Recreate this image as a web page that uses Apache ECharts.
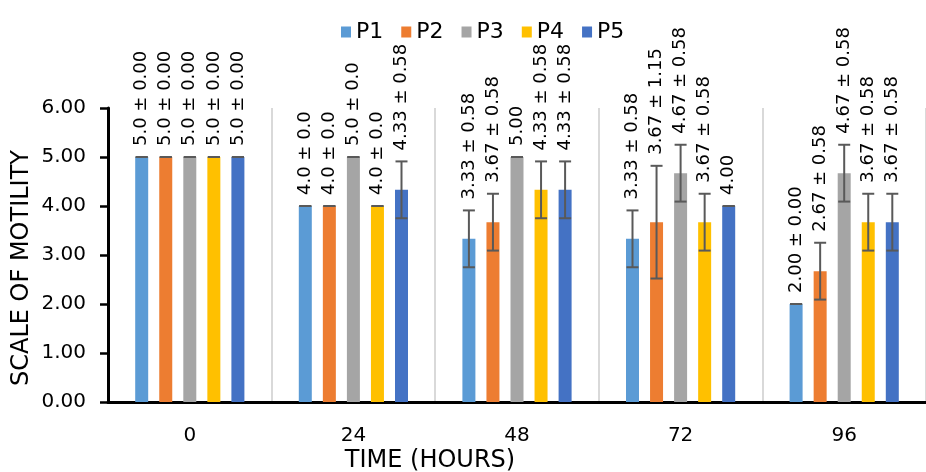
<!DOCTYPE html>
<html>
<head>
<meta charset="utf-8">
<script src="https://cdn.jsdelivr.net/npm/echarts@6/dist/echarts.min.js"></script>
<style>html,body{margin:0;padding:0;background:#fff;}#c{width:926px;height:472px;}</style>
</head>
<body>
<div id="c"></div>
<script>
var categories = ['0', '24', '48', '72', '96'];
var seriesNames = ['P1', 'P2', 'P3', 'P4', 'P5'];
var p1Mean = [5.0, 4.0, 3.33, 3.33, 2.00];
var p1Sd   = [0, 0, 0.58, 0.58, 0];
var p2Mean = [5.0, 4.0, 3.67, 3.67, 2.67];
var p2Sd   = [0, 0, 0.58, 1.15, 0.58];
var p3Mean = [5.0, 5.0, 5.00, 4.67, 4.67];
var p3Sd   = [0, 0, 0, 0.58, 0.58];
var p4Mean = [5.0, 4.0, 4.33, 3.67, 3.67];
var p4Sd   = [0, 0, 0.58, 0.58, 0.58];
var p5Mean = [5.0, 4.33, 4.33, 4.00, 3.67];
var p5Sd   = [0, 0.58, 0.58, 0, 0.58];
var p1Labels = ['5.0 ± 0.00', '4.0 ± 0.0', '3.33 ± 0.58', '3.33 ± 0.58', '2.00 ± 0.00'];
var p2Labels = ['5.0 ± 0.00', '4.0 ± 0.0', '3.67 ± 0.58', '3.67 ± 1.15', '2.67 ± 0.58'];
var p3Labels = ['5.0 ± 0.00', '5.0 ± 0.0', '5.00', '4.67 ± 0.58', '4.67 ± 0.58'];
var p4Labels = ['5.0 ± 0.00', '4.0 ± 0.0', '4.33 ± 0.58', '3.67 ± 0.58', '3.67 ± 0.58'];
var p5Labels = ['5.0 ± 0.00', '4.33 ± 0.58', '4.33 ± 0.58', '4.00', '3.67 ± 0.58'];
var yTicks = [0, 1, 2, 3, 4, 5, 6];

var colors = ['#5B9BD5', '#ED7D31', '#A5A5A5', '#FFC000', '#4472C4'];
var means = [p1Mean, p2Mean, p3Mean, p4Mean, p5Mean];
var sds = [p1Sd, p2Sd, p3Sd, p4Sd, p5Sd];
var labels = [p1Labels, p2Labels, p3Labels, p4Labels, p5Labels];

var BAR_W = 13, BAR_GAP = 0.85;
var FONT = '"DejaVu Sans", Verdana, sans-serif';

var chart = echarts.init(document.getElementById('c'), null, {renderer: 'canvas'});

var series = [];
seriesNames.forEach(function (name, i) {
  series.push({
    name: name,
    type: 'bar',
    barWidth: BAR_W,
    barGap: (BAR_GAP * 100) + '%',
    itemStyle: {color: colors[i]},
    data: means[i],
    z: 2
  });
});
seriesNames.forEach(function (name, i) {
  var errData = categories.map(function (c, k) { return [k, means[i][k], sds[i][k]]; });
  series.push({
    name: name,
    type: 'custom',
    z: 5,
    clip: false,
    data: errData,
    encode: {x: 0, y: 1},
    renderItem: function (params, api) {
      var cat = api.value(0), m = api.value(1), sd = api.value(2);
      var off = (i - 2) * BAR_W * (1 + BAR_GAP);
      var x = api.coord([cat, m])[0] + off;
      var yTop = api.coord([cat, m + sd])[1];
      var yBot = api.coord([cat, m - sd])[1];
      var cap = 6;
      var st = {stroke: '#595959', lineWidth: 2};
      return {
        type: 'group',
        children: [
          {type: 'line', shape: {x1: x, y1: yTop, x2: x, y2: yBot}, style: st},
          {type: 'line', shape: {x1: x - cap, y1: yTop, x2: x + cap, y2: yTop}, style: st},
          {type: 'line', shape: {x1: x - cap, y1: yBot, x2: x + cap, y2: yBot}, style: st},
          {type: 'text', x: x, y: yTop - 11, rotation: Math.PI / 2,
           style: {text: labels[i][params.dataIndex], fontSize: 18, fontFamily: FONT,
                   fill: '#000', align: 'left', verticalAlign: 'middle'}}
        ]
      };
    }
  });
});

var option = {
  backgroundColor: '#fff',
  animation: false,
  legend: {
    data: seriesNames,
    left: 336,
    top: 16,
    itemWidth: 10,
    itemHeight: 11,
    itemGap: 18,
    icon: 'rect',
    textStyle: {fontSize: 22, fontFamily: FONT, color: '#000'}
  },
  grid: {left: 108, top: 108, width: 831, height: 294, containLabel: false},
  xAxis: {
    type: 'category',
    data: categories,
    axisLine: {lineStyle: {color: '#000', width: 3}},
    axisTick: {show: false},
    splitLine: {show: true, lineStyle: {color: '#D9D9D9', width: 2}},
    axisLabel: {fontSize: 20, fontFamily: FONT, color: '#000', margin: 24}
  },
  yAxis: {
    type: 'value',
    min: yTicks[0],
    max: yTicks[yTicks.length - 1],
    interval: 1,
    axisLine: {show: true, lineStyle: {color: '#000', width: 3}},
    axisTick: {show: true, length: 8, lineStyle: {color: '#000', width: 2.5}},
    splitLine: {show: false},
    axisLabel: {fontSize: 20, fontFamily: FONT, color: '#000', margin: 22,
                formatter: function (v) { return v.toFixed(2); }}
  },
  graphic: [
    {type: 'text', x: 22, y: 268, rotation: Math.PI / 2,
     style: {text: 'SCALE OF MOTILITY', fontSize: 24, fontFamily: FONT, fill: '#000',
             align: 'center', verticalAlign: 'middle'}},
    {type: 'text', x: 430, y: 461,
     style: {text: 'TIME (HOURS)', fontSize: 24, fontFamily: FONT, fill: '#000',
             align: 'center', verticalAlign: 'middle'}}
  ],
  series: series
};
chart.setOption(option);
</script>
</body>
</html>
